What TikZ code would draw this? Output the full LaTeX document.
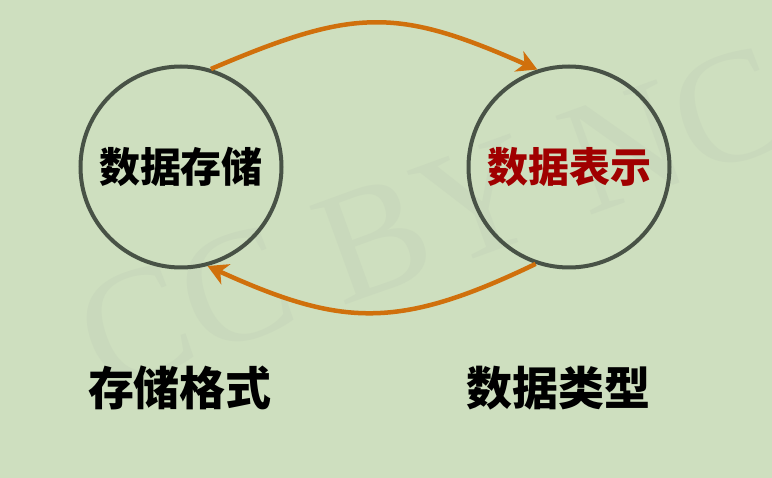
\documentclass[tikz,border=0pt]{standalone}
\usepackage{fontspec}
\newfontfamily\cjk{Noto Sans CJK SC}
\newfontfamily\wmfont{Liberation Serif}
\usetikzlibrary{arrows.meta}
\definecolor{bgcol}{RGB}{206,223,191}
\definecolor{ringcol}{RGB}{72,82,70}
\definecolor{arrowcol}{RGB}{208,112,12}
\definecolor{redtxt}{RGB}{160,0,0}
\definecolor{wmcol}{RGB}{201,217,188}
\tikzset{
  ring/.style={circle, draw=ringcol, line width=4pt, minimum size=201pt, inner sep=0pt,
    font=\cjk\bfseries\fontsize{41}{41}\selectfont},
  label/.style={font=\cjk\bfseries\fontsize{46}{46}\selectfont, text=black, inner sep=0pt},
  flow/.style={draw=arrowcol, line width=4.5pt, -{Stealth[length=20pt,width=22pt,inset=6pt]}},
}
\begin{document}
\begin{tikzpicture}[x=1pt,y=-1pt]
\fill[bgcol] (0,0) rectangle (772,478);
\useasboundingbox (0,0) rectangle (772,478);
\node[font=\wmfont\fontsize{160}{160}\selectfont, text=wmcol, rotate=20, inner sep=0pt] (wm) at (432,218) {CC BY NC};
\node[ring, text=black] (L) at (181,167) {数据存储};
\node[ring, text=redtxt] (R) at (569,167) {数据表示};
\draw[flow] (L.73) .. controls (354,8) and (396,7) .. (R.108);
\draw[flow] (R.-109) .. controls (398,330) and (342,327) .. (L.-75);
\node[label] (fmt) at (180,388) {存储格式};
\node[label] (typ) at (558,388) {数据类型};
\end{tikzpicture}
\end{document}
